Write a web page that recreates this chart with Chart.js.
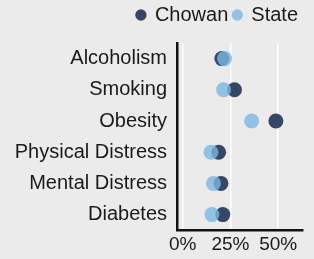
<!DOCTYPE html>
<html lang="en">
<head>
  <meta charset="UTF-8">
  <title>Chowan vs State</title>
  <script src="https://cdn.jsdelivr.net/npm/chart.js"></script>
  <style>
    html, body { margin: 0; padding: 0; background: #ebebeb; }
    #wrap { width: 314px; height: 259px; position: relative; }
  </style>
</head>
<body>
  <div id="wrap"><canvas id="chart"></canvas></div>

  <script>
    // Health measures (percent of population)
    const categories = ['Alcoholism', 'Smoking', 'Obesity', 'Physical Distress', 'Mental Distress', 'Diabetes'];
    const chowanValues = [20.5, 27.1, 48.8, 18.8, 20.0, 21.0];
    const stateValues = [21.9, 21.4, 36.1, 14.8, 16.1, 15.3];
    const xTicks = [0, 25, 50];

    const family = '"Liberation Sans", Arial, sans-serif';

    // give the legend a bit more room below it
    const legendSpace = {
      id: 'legendSpace',
      beforeInit(chart) {
        const fit = chart.legend.fit;
        chart.legend.fit = function () {
          fit.bind(chart.legend)();
          this.height += 8;
        };
      }
    };

    new Chart(document.getElementById('chart'), {
      type: 'line',
      data: {
        labels: categories,
        datasets: [{
          label: 'Chowan',
          data: chowanValues,
          showLine: false,
          backgroundColor: 'rgba(44, 62, 95, 0.95)',
          borderColor: 'rgba(44, 62, 95, 0.95)',
          pointRadius: 7.5,
          pointHoverRadius: 7.5,
          pointBorderWidth: 0,
          order: 2
        }, {
          label: 'State',
          data: stateValues,
          showLine: false,
          backgroundColor: 'rgba(125, 183, 225, 0.8)',
          borderColor: 'rgba(125, 183, 225, 0.8)',
          pointRadius: 7.5,
          pointHoverRadius: 7.5,
          pointBorderWidth: 0,
          order: 1
        }]
      },
      options: {
        indexAxis: 'y',
        responsive: true,
        maintainAspectRatio: false,
        animation: false,
        layout: { padding: { right: 11, top: 0, bottom: 0, left: 0 } },
        plugins: {
          tooltip: { enabled: false },
          legend: {
            position: 'top',
            align: 'end',
            labels: {
              usePointStyle: true,
              pointStyle: 'circle',
              boxWidth: 8,
              boxHeight: 8,
              padding: 5,
              color: '#1a1a1a',
              font: { family: family, size: 20 },
              sort: (a, b) => a.datasetIndex - b.datasetIndex
            }
          }
        },
        scales: {
          x: {
            type: 'linear',
            min: -3,
            max: 63,
            afterBuildTicks: axis => { axis.ticks = xTicks.map(v => ({ value: v })); },
            grid: { color: '#ffffff', lineWidth: 1.5, drawTicks: false },
            border: { display: true, color: '#111111', width: 2.5 },
            ticks: {
              color: '#1a1a1a',
              font: { family: family, size: 19 },
              padding: 3,
              callback: v => v + '%'
            }
          },
          y: {
            type: 'category',
            offset: true,
            afterFit: axis => { axis.width = 177; },
            grid: { display: false, drawTicks: false },
            border: { display: true, color: '#111111', width: 2.5 },
            ticks: { color: '#1a1a1a', font: { family: family, size: 20 }, padding: 10, autoSkip: false }
          }
        }
      },
      plugins: [legendSpace]
    });
  </script>
</body>
</html>
